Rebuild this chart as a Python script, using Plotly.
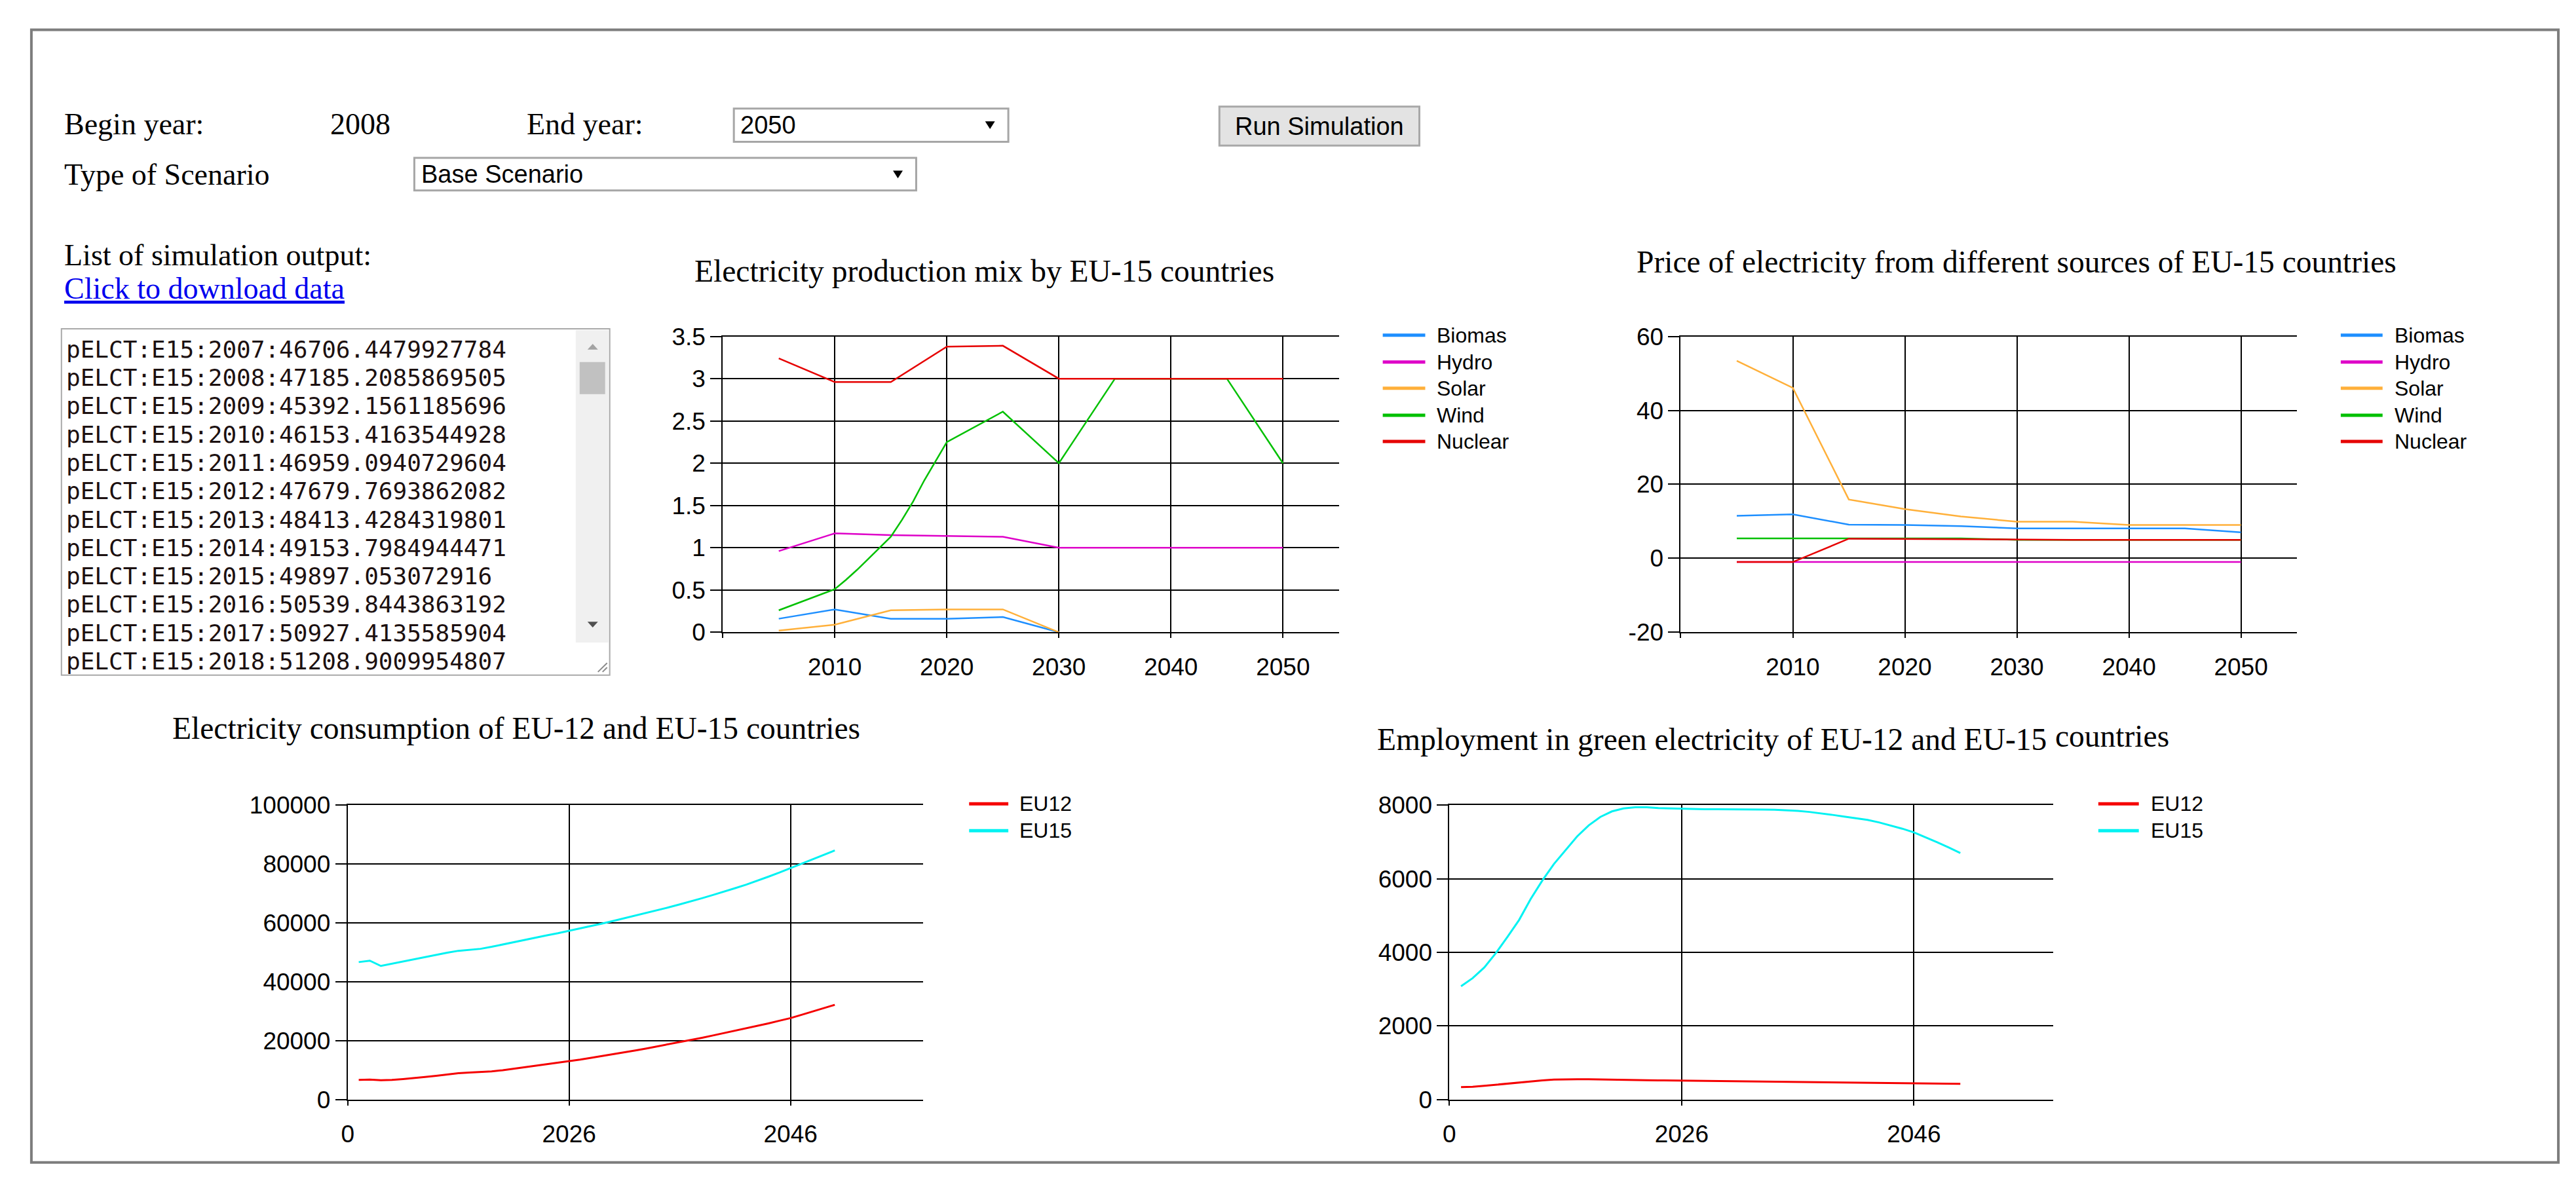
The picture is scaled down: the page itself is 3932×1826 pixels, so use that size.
import plotly.graph_objects as go

W, H = 3932, 1826

# ------------------------------------------------------------------ data
mix_years = [2005, 2010, 2015, 2020, 2025, 2030, 2035, 2040, 2045, 2050]
mix_biomas = [0.16, 0.27, 0.16, 0.16, 0.18, 0.0]
mix_hydro = [0.96, 1.17, 1.15, 1.14, 1.13, 1.0, 1.0, 1.0, 1.0, 1.0]
mix_solar = [0.02, 0.09, 0.26, 0.27, 0.27, 0.0]
mix_wind_years = [2005, 2010, 2011, 2012, 2013, 2014, 2015, 2016, 2017, 2018, 2019,
                  2020, 2025, 2030, 2035, 2040, 2045, 2050]
mix_wind = [0.26, 0.51, 0.62, 0.74, 0.87, 1.0, 1.13, 1.33, 1.55, 1.8, 2.03,
            2.25, 2.61, 2.0, 3.0, 3.0, 3.0, 2.0]
mix_nuclear = [3.24, 2.96, 2.96, 3.38, 3.39, 3.0, 3.0, 3.0, 3.0, 3.0]

price_years = [2005, 2010, 2015, 2020, 2025, 2030, 2035, 2040, 2045, 2050]
price_biomas = [11.5, 11.9, 9.1, 9.0, 8.7, 8.1, 8.1, 8.1, 8.1, 7.0]
price_hydro = [-1.0, -1.0, -1.0, -1.0, -1.0, -1.0, -1.0, -1.0, -1.0, -1.0]
price_solar = [53.4, 46.1, 15.9, 13.3, 11.3, 9.9, 9.9, 9.0, 9.0, 9.0]
price_wind = [5.4, 5.4, 5.4, 5.4, 5.4, 5.0, 5.0, 5.0, 5.0, 5.0]
price_nuclear = [-1.0, -1.0, 5.3, 5.2, 5.1, 5.0, 5.0, 5.0, 5.0, 5.0]

source_names = ["Biomas", "Hydro", "Solar", "Wind", "Nuclear"]
source_colors = ["#1E8FFF", "#DE00C8", "#FFB03A", "#00C000", "#E60000"]

cons_years = list(range(2007, 2051))
cons_eu12 = [6700, 6800, 6600, 6700, 7000, 7300, 7700, 8100, 8600, 9000,
             9200, 9400, 9600, 10000, 10500, 11000, 11500, 12000, 12500, 13000,
             13600, 14200, 14800, 15400, 16000, 16700, 17400, 18100, 18800, 19500,
             20200, 21000, 21800, 22600, 23400, 24200, 25000, 25900, 26800, 27700,
             28800, 29900, 31000, 32200]
cons_eu15 = [46706, 47185, 45392, 46153, 46959, 47680, 48413, 49154, 49897, 50540,
             50927, 51209, 51900, 52700, 53500, 54300, 55000, 55800, 56500, 57300,
             58100, 58900, 59800, 60700, 61600, 62500, 63400, 64400, 65300, 66300,
             67300, 68400, 69500, 70600, 71800, 73000, 74300, 75700, 77100, 78600,
             80100, 81600, 83100, 84600]

emp_years = list(range(2007, 2051))
emp_eu12 = [340, 350, 375, 405, 440, 475, 505, 525, 545, 555,
            556, 552, 545, 540, 535, 530, 527, 524, 520, 516,
            513, 510, 507, 504, 501, 498, 495, 492, 489, 485,
            481, 477, 473, 469, 465, 461, 457, 453, 450, 447,
            443, 439, 435, 431]
emp_eu15 = [3080, 3300, 3590, 3980, 4420, 4880, 5450, 5950, 6400, 6770,
            7150, 7450, 7680, 7830, 7910, 7940, 7940, 7920, 7910, 7900,
            7895, 7890, 7890, 7890, 7890, 7885, 7880, 7875, 7865, 7845,
            7815, 7780, 7735, 7690, 7650, 7600, 7530, 7450, 7360, 7260,
            7130, 6990, 6850, 6700]

region_names = ["EU12", "EU15"]
region_colors = ["#F50000", "#00F2F2"]

mix_ticks = [2000, 2010, 2020, 2030, 2040, 2050]
mix_tick_text = ["", "2010", "2020", "2030", "2040", "2050"]
mix_y_ticks = [0, 0.5, 1, 1.5, 2, 2.5, 3, 3.5]
mix_y_text = ["0", "0.5", "1", "1.5", "2", "2.5", "3", "3.5"]
price_y_ticks = [-20, 0, 20, 40, 60]
cons_x_ticks = [2006, 2026, 2046]
cons_x_text = ["0", "2026", "2046"]
cons_y_ticks = [0, 20000, 40000, 60000, 80000, 100000]
emp_y_ticks = [0, 2000, 4000, 6000, 8000]

output_lines = [
    "pELCT:E15:2007:46706.4479927784",
    "pELCT:E15:2008:47185.2085869505",
    "pELCT:E15:2009:45392.1561185696",
    "pELCT:E15:2010:46153.4163544928",
    "pELCT:E15:2011:46959.0940729604",
    "pELCT:E15:2012:47679.7693862082",
    "pELCT:E15:2013:48413.4284319801",
    "pELCT:E15:2014:49153.7984944471",
    "pELCT:E15:2015:49897.053072916",
    "pELCT:E15:2016:50539.8443863192",
    "pELCT:E15:2017:50927.4135585904",
    "pELCT:E15:2018:51208.9009954807",
]

# ------------------------------------------------------------------ helpers
SERIF = "Liberation Serif"
SANS = "Liberation Sans"
MONO = "DejaVu Sans Mono"


def X(p):
    return p / W


def Y(p):
    return 1 - p / H


annotations = []
shapes = []


def label(x, y, s, size, family, color="black", anchor="left"):
    annotations.append(dict(x=X(x), y=Y(y), xref="paper", yref="paper", text=s,
                            showarrow=False, xanchor=anchor, yanchor="middle",
                            borderpad=0,
                            font=dict(size=size, family=family, color=color)))


def rect(x0, y0, x1, y1, fill="white", line="#a9a9a9", lw=2):
    shapes.append(dict(type="rect", xref="paper", yref="paper",
                       x0=X(x0), x1=X(x1), y0=Y(y1), y1=Y(y0),
                       fillcolor=fill, line=dict(color=line, width=lw), layer="below"))


def seg(x0, y0, x1, y1, color, lw):
    shapes.append(dict(type="line", xref="paper", yref="paper",
                       x0=X(x0), x1=X(x1), y0=Y(y0), y1=Y(y1),
                       line=dict(color=color, width=lw)))


def tri(cx, cy, w, h, color, up=False):
    if up:
        pts = [(cx - w / 2, cy + h / 2), (cx + w / 2, cy + h / 2), (cx, cy - h / 2)]
    else:
        pts = [(cx - w / 2, cy - h / 2), (cx + w / 2, cy - h / 2), (cx, cy + h / 2)]
    path = "M " + " L ".join(f"{X(a):.6f},{Y(b):.6f}" for a, b in pts) + " Z"
    shapes.append(dict(type="path", xref="paper", yref="paper", path=path,
                       fillcolor=color, line=dict(color=color, width=0)))


# ------------------------------------------------------------------ page frame
rect(38, 26, 3905, 1795, fill="rgba(0,0,0,0)", line="#7d7d7d", lw=4)

# ------------------------------------------------------------------ form
label(87, 173, "Begin year:", 46, SERIF)
label(494, 173, "2008", 46, SERIF)
label(795, 173, "End year:", 46, SERIF)
rect(1113, 149, 1533, 201, fill="white", line="#a6a6a6", lw=3)
label(1122, 175, "2050", 38, SANS)
tri(1505, 175, 15, 12, "black")
rect(1856, 146, 2162, 207, fill="#e3e3e3", line="#a8a8a8", lw=3)
label(2009, 177, "Run Simulation", 38, SANS, anchor="center")

label(87, 252, "Type of Scenario", 46, SERIF)
rect(624, 226, 1392, 277, fill="white", line="#a6a6a6", lw=3)
label(634, 252, "Base Scenario", 38, SANS)
tri(1364, 252, 15, 12, "black")

label(87, 378, "List of simulation output:", 46, SERIF)
label(87, 430, "<u>Click to download data</u>", 46, SERIF, color="#0000EE")

# text area
rect(84, 493, 923, 1034, fill="white", line="#a9a9a9", lw=2)
rect(871, 495, 921, 983, fill="#f0f0f0", line="#f0f0f0", lw=0)
rect(877, 545, 916, 595, fill="#c1c1c1", line="#c1c1c1", lw=0)
tri(897, 521, 16, 9, "#a3a3a3", up=True)
tri(897, 955, 16, 9, "#505050")
seg(905, 1029, 919, 1015, "#8a8a8a", 2)
seg(912, 1029, 919, 1022, "#8a8a8a", 2)
for i, line_txt in enumerate(output_lines):
    label(90, 525 + i * 44.3, line_txt, 36, MONO, color="#1c1010")

# ------------------------------------------------------------------ charts
fig = go.Figure()

TICKFONT = dict(size=37, family=SANS, color="black")


def axes(idx, xd, yd, xr, yr, xtv, xtt, ytv, ytt):
    sx = "" if idx == 1 else str(idx)
    xa = dict(domain=[X(xd[0]), X(xd[1])], range=xr, tickvals=xtv, ticktext=xtt,
              showgrid=True, gridcolor="black", gridwidth=2, zeroline=False,
              showline=True, linecolor="black", linewidth=2, mirror=True,
              ticks="outside", ticklen=7, tickwidth=2, tickcolor="black",
              tickfont=TICKFONT, ticklabelstandoff=12, anchor="y" + sx,
              fixedrange=True)
    ya = dict(domain=[Y(yd[1]), Y(yd[0])], range=yr, tickvals=ytv, ticktext=ytt,
              showgrid=True, gridcolor="black", gridwidth=2, zeroline=False,
              showline=True, linecolor="black", linewidth=2, mirror=False,
              ticks="outside", ticklen=17, tickwidth=2, tickcolor="black",
              tickfont=TICKFONT, anchor="x" + sx, fixedrange=True)
    return {"xaxis" + sx: xa, "yaxis" + sx: ya}


layout_axes = {}
layout_axes.update(axes(1, (1096, 2039), (505, 967), [2000, 2055], [0, 3.5],
                        mix_ticks, mix_tick_text, mix_y_ticks, mix_y_text))
layout_axes.update(axes(2, (2562, 3505), (505, 967), [2000, 2055], [-20, 60],
                        mix_ticks, mix_tick_text, price_y_ticks,
                        [str(v) for v in price_y_ticks]))
layout_axes.update(axes(3, (522, 1403), (1237, 1697), [2006, 2058], [0, 100000],
                        cons_x_ticks, cons_x_text, cons_y_ticks,
                        [str(v) for v in cons_y_ticks]))
layout_axes.update(axes(4, (2208, 3132), (1237, 1697), [2006, 2058], [0, 8000],
                        cons_x_ticks, cons_x_text, emp_y_ticks,
                        [str(v) for v in emp_y_ticks]))

LW = 2.5

# chart 1 : production mix
mix_series = [
    (mix_years[:len(mix_biomas)], mix_biomas),
    (mix_years, mix_hydro),
    (mix_years[:len(mix_solar)], mix_solar),
    (mix_wind_years, mix_wind),
    (mix_years, mix_nuclear),
]
for (xs, ys), name, col in zip(mix_series, source_names, source_colors):
    fig.add_trace(go.Scatter(x=xs, y=ys, name=name, mode="lines",
                             line=dict(color=col, width=LW), showlegend=False,
                             xaxis="x", yaxis="y"))

# chart 2 : prices
price_series = [price_biomas, price_hydro, price_solar, price_wind, price_nuclear]
for ys, name, col in zip(price_series, source_names, source_colors):
    fig.add_trace(go.Scatter(x=price_years, y=ys, name=name, mode="lines",
                             line=dict(color=col, width=LW), showlegend=False,
                             xaxis="x2", yaxis="y2"))

# chart 3 : consumption
for ys, name, col in zip([cons_eu12, cons_eu15], region_names, region_colors):
    fig.add_trace(go.Scatter(x=cons_years, y=ys, name=name, mode="lines",
                             line=dict(color=col, width=3), showlegend=False,
                             xaxis="x3", yaxis="y3"))

# chart 4 : employment
for ys, name, col in zip([emp_eu12, emp_eu15], region_names, region_colors):
    fig.add_trace(go.Scatter(x=emp_years, y=ys, name=name, mode="lines",
                             line=dict(color=col, width=3), showlegend=False,
                             xaxis="x4", yaxis="y4"))

# titles
TF = 47.5
label(1052, 403, "Electricity production mix by EU-15 countries", TF, SERIF)
label(2493, 389, "Price of electricity from different sources of EU-15 countries", TF, SERIF)
label(253, 1117, "Electricity consumption of EU-12 and EU-15 countries", TF, SERIF)
label(2096, 1134, "Employment in green electricity of EU-12 and EU-15", TF, SERIF)
label(3134, 1129, "countries", TF, SERIF)

# legends
LEG_FONT = 32
rows5 = [503, 545, 586, 628, 669]
for lx0, lx1, tx in [(2106, 2171, 2188), (3572, 3636, 3653)]:
    for name, col, ry in zip(source_names, source_colors, rows5):
        seg(lx0, ry, lx1, ry, col, 5)
        label(tx, ry, name, LEG_FONT, SANS)
rows2 = [1235, 1277]
for lx0, lx1, tx in [(1473, 1533, 1549), (3201, 3263, 3280)]:
    for name, col, ry in zip(region_names, region_colors, rows2):
        seg(lx0, ry, lx1, ry, col, 5)
        label(tx, ry, name, LEG_FONT, SANS)

fig.update_layout(
    width=W, height=H,
    margin=dict(l=0, r=0, t=0, b=0),
    paper_bgcolor="white", plot_bgcolor="white",
    showlegend=False,
    annotations=annotations,
    shapes=shapes,
    **layout_axes,
)

fig.write_html("out.html", config={"displayModeBar": False},
               post_script="document.body.style.margin='0';"
                           "document.body.style.overflow='hidden';")
